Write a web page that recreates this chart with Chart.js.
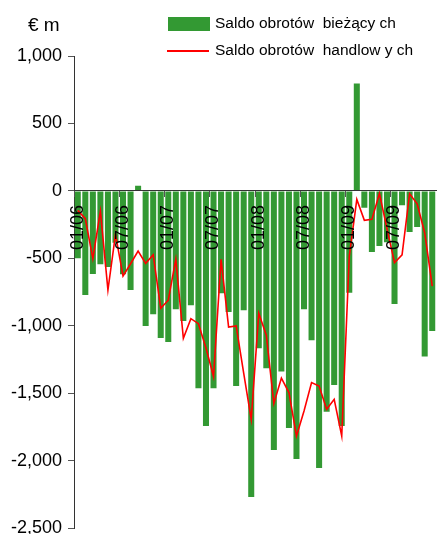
<!DOCTYPE html>
<html>
<head>
<meta charset="utf-8">
<script src="https://cdn.jsdelivr.net/npm/chart.js@4.4.0/dist/chart.umd.min.js"></script>
<style>
  body { margin: 0; overflow: hidden; background: #fff; }
  #wrap { position: relative; width: 437px; height: 534px; overflow: hidden; }
  #canvas { position: absolute; left: 0; top: 0; }
  .txt { position: absolute; font-family: "Liberation Sans", Arial, sans-serif; color: #000; white-space: pre; }
  .box { position: absolute; }
</style>
</head>
<body>
<div id="wrap">
  <canvas id="canvas" width="437" height="545"></canvas>
  <div class="txt" style="left:28px; top:15px; font-size:19px; line-height:19px;">€ m</div>
  <div class="box" style="left:168px; top:17px; width:42px; height:14px; background:#339933;"></div>
  <div class="txt" style="left:215px; top:14px; font-size:15.5px; line-height:18px;">Saldo obrotów  bieżący ch</div>
  <div class="box" style="left:167px; top:50px; width:42px; height:2px; background:#ff0000;"></div>
  <div class="txt" style="left:215px; top:41px; font-size:15.5px; line-height:18px;">Saldo obrotów  handlow y ch</div>
</div>
<script>
/* dane */

const miesiace = [
    '01/06','02/06','03/06','04/06','05/06','06/06','07/06','08/06','09/06','10/06','11/06','12/06',
    '01/07','02/07','03/07','04/07','05/07','06/07','07/07','08/07','09/07','10/07','11/07','12/07',
    '01/08','02/08','03/08','04/08','05/08','06/08','07/08','08/08','09/08','10/08','11/08','12/08',
    '01/09','02/09','03/09','04/09','05/09','06/09','07/09','08/09','09/09','10/09','11/09','12/09'
];

// saldo obrotow biezacych, mln EUR
const biezace = [
    -500, -772, -616, -544, -564, -384, -618, -735, 38, -1001, -915, -1090,
    -1120, -878, -964, -848, -1463, -1742, -1463, -759, -898, -1446, -885, -2268,
    -1167, -1315, -1920, -1339, -1757, -1987, -878, -1107, -2053, -1636, -1438, -1742,
    -754, 796, -125, -453, -409, -380, -838, -107, -305, -268, -1228, -1038
];

// saldo obrotow handlowych, mln EUR
const handlowe = [
    -144, -206, -502, -150, -735, -322, -631, -540, -446, -537, -473, -870,
    -810, -507, -1093, -947, -984, -1165, -1376, -507, -1009, -1001, -1350, -1693,
    -907, -1070, -1576, -1387, -1495, -1816, -1631, -1421, -1446, -1619, -1545, -1816,
    -483, -63, -218, -211, -19, -280, -532, -474, -21, -95, -310, -705
];

const osY = [1000, 500, 0, -500, -1000, -1500, -2000, -2500];


/* wykres */

Chart.defaults.font.family = "'Liberation Sans', Arial, sans-serif";
Chart.defaults.font.size = 18;
Chart.defaults.color = '#000';

const ctx = document.getElementById('canvas');

var chart1 = new Chart(ctx, {
    type: 'bar',
    data: {
        labels: miesiace,
        datasets: [{
            type: 'bar',
            label: 'Saldo obrotów bieżących',
            data: biezace,
            backgroundColor: '#339933',
            barPercentage: 0.8,
            categoryPercentage: 1,
            order: 2
        }, {
            type: 'line',
            label: 'Saldo obrotów handlowych',
            data: handlowe,
            borderColor: '#ff0000',
            borderWidth: 1.6,
            pointRadius: 0,
            tension: 0,
            fill: false,
            order: 1
        }]
    },
    options: {
        responsive: false,
        animation: false,
        devicePixelRatio: 1,
        layout: { padding: { top: 56, right: 1, bottom: 16, left: 0 } },
        plugins: {
            legend: { display: false },
            tooltip: { enabled: false }
        },
        scales: {
            x: {
                position: { y: 0 },
                offset: true,
                afterFit: function(s) { s.paddingLeft = 0; s.paddingRight = 0; },
                grid: {
                    offset: true,
                    z: 1,
                    drawOnChartArea: false,
                    drawTicks: true,
                    tickLength: 6,
                    color: function(c) { return c.index % 6 === 0 ? '#555' : 'rgba(0,0,0,0)'; }
                },
                border: { color: '#333', width: 1, z: 1 },
                ticks: {
                    z: 1,
                    autoSkip: false,
                    minRotation: 90,
                    maxRotation: 90,
                    padding: 8,
                    callback: function(v, i) { return i % 6 === 0 ? miesiace[i] : ''; }
                }
            },
            y: {
                min: osY[osY.length - 1],
                max: osY[0],
                afterFit: function(s) { s.width = 74; },
                afterBuildTicks: function(s) { s.ticks = osY.map(function(v) { return { value: v }; }); },
                grid: { drawOnChartArea: false, drawTicks: true, tickLength: 6, color: '#555' },
                border: { color: '#333', width: 1 },
                ticks: {
                    padding: 6,
                    callback: function(v) { return v.toLocaleString('en-US'); }
                }
            }
        }
    }
});
</script>
</body>
</html>
